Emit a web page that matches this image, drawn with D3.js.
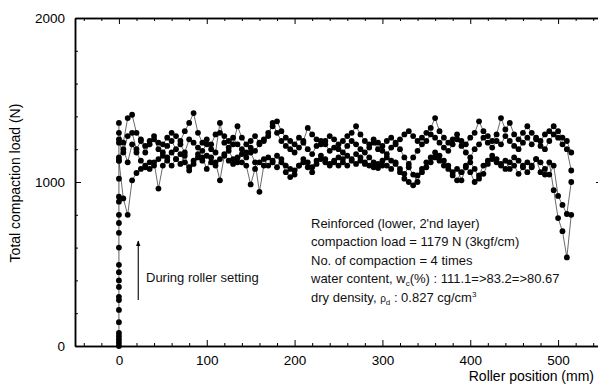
<!DOCTYPE html>
<html lang="en">
<head>
<meta charset="UTF-8">
<title>Total compaction load vs roller position</title>
<script src="https://d3js.org/d3.v7.min.js"></script>
<style>
    body { margin: 0; background: #fff; }
    svg { display: block; font-family: "Liberation Sans", Arial, sans-serif; }
    .axis path, .axis line { stroke: #000; }
    .axis path { stroke-width: 1.5; }
    .axis text { font-size: 13.5px; fill: #000; font-family: "Liberation Sans", Arial, sans-serif; }
    .note { font-size: 13px; fill: #111; }
</style>
</head>
<body>
<div id="chart"></div>
<script>
// roller position of each reading (mm)
const positions = [
    0, 5, 10, 15, 20, 25, 30, 35, 40, 45,
    50, 55, 60, 65, 70, 75, 80, 85, 90, 95,
    100, 105, 110, 115, 120, 125, 130, 135, 140, 145,
    150, 155, 160, 165, 170, 175, 180, 185, 190, 195,
    200, 205, 210, 215, 220, 225, 230, 235, 240, 245,
    250, 255, 260, 265, 270, 275, 280, 285, 290, 295,
    300, 305, 310, 315, 320, 325, 330, 335, 340, 345,
    350, 355, 360, 365, 370, 375, 380, 385, 390, 395,
    400, 405, 410, 415, 420, 425, 430, 435, 440, 445,
    450, 455, 460, 465, 470, 475, 480, 485, 490, 495,
    500, 505, 510, 515
];

// total compaction load (N), one array per pass
const pass1 = [
    1300, 1240, 1390, 1410, 1300, 1260, 1220, 1250, 1280, 1240,
    1230, 1270, 1300, 1280, 1250, 1310, 1360, 1420, 1300, 1240,
    1260, 1230, 1290, 1300, 1280, 1250, 1230, 1340, 1270, 1230,
    1250, 1280, 1240, 1260, 1300, 1340, 1370, 1310, 1270, 1250,
    1230, 1270, 1250, 1330, 1290, 1260, 1230, 1250, 1280, 1260,
    1230, 1250, 1280, 1300, 1340, 1290, 1250, 1230, 1260, 1240,
    1220, 1250, 1270, 1240, 1260, 1290, 1310, 1280, 1250, 1270,
    1300, 1330, 1390, 1310, 1270, 1240, 1260, 1290, 1250, 1230,
    1270, 1300, 1370, 1310, 1280, 1250, 1290, 1390, 1320, 1360,
    1290, 1260, 1300, 1340, 1300, 1270, 1250, 1290, 1310, 1340,
    1310, 1270, 1250, 1180
];
const pass2 = [
    1150, 1200, 1120, 1230, 1180, 1130, 1100, 1080, 1120, 960,
    1100, 1150, 1180, 1140, 1110, 1160, 1090, 1130, 1170, 1150,
    1080, 1150, 1120, 1010, 1160, 1190, 1140, 1120, 1170, 1150,
    1180, 1120, 940, 1100, 1150, 1120, 1090, 1140, 1100, 1080,
    1070, 1100, 1120, 1090, 1060, 1110, 1140, 1120, 1100, 1130,
    1100, 1140, 1160, 1130, 1110, 1150, 1120, 1100, 1090, 1110,
    1130, 1100, 1080, 1120, 1060, 1020, 1000, 980, 1040, 1060,
    1090, 1120, 1150, 1130, 1100, 1080, 1040, 1010, 1060, 1100,
    1120, 1080, 1020, 1050, 1110, 1140, 1120, 1100, 1130, 1080,
    1100, 1050, 1090, 1120, 1100, 1140, 1060, 1045, 1120, 950,
    780, 700, 540, 800
];
const pass3 = [
    1240, 1180, 1280, 1300, 1200, 1250, 1180, 1230, 1260, 1200,
    1180, 1220, 1250, 1200, 1230, 1180, 1260, 1240, 1210, 1190,
    1230, 1200, 1180, 1360, 1240, 1210, 1270, 1230, 1200, 1180,
    1210, 1190, 1230, 1250, 1280, 1360, 1300, 1250, 1220, 1200,
    1180, 1210, 1240, 1200, 1170, 1220, 1250, 1230, 1190, 1210,
    1200, 1180, 1220, 1250, 1230, 1200, 1180, 1210, 1240, 1200,
    1190, 1170, 1210, 1230, 1200, 1150, 1110, 1150, 1190, 1230,
    1250, 1290, 1270, 1240, 1210, 1190, 1230, 1260, 1220, 1180,
    1150, 1200, 1230, 1270, 1240, 1210, 1250, 1230, 1280, 1250,
    1220, 1200, 1240, 1270, 1230, 1260, 1220, 1200, 1250, 1290,
    1270, 1230, 1200, 1070
];
const pass4 = [
    1130, 900, 800, 1010, 1055, 1080, 1090, 1120, 1100, 1140,
    1160, 1130, 1100, 1140, 1170, 1120, 1070, 1110, 1150, 1130,
    1160, 1120, 1100, 1140, 1170, 1130, 1110, 1150, 1120, 1100,
    985, 1080, 1120, 1140, 1100, 1130, 1160, 1120, 1060, 1030,
    1045, 1100, 1140, 1120, 1090, 1130, 1160, 1140, 1110, 1120,
    1150, 1120, 1100, 1140, 1170, 1130, 1110, 1150, 1120, 1085,
    1100, 1150, 1130, 1110, 1080, 1050, 1090, 1045, 1000, 1080,
    1120, 1150, 1180, 1160, 1130, 1100, 1060, 1080, 1010, 1090,
    1060, 1000, 1040, 1100, 1130, 1160, 1140, 1110, 1080, 1120,
    1150, 1130, 1100, 1060, 1090, 1140, 1120, 1080, 1045, 1100,
    915, 860, 805, 1000
];

// readings while the roller was being set (all at position 0)
const settingLoads = [0, 20, 40, 60, 80, 145, 220, 280, 300, 360, 400, 450, 495,
    600, 690, 750, 800, 880, 910, 1020, 1130, 1260, 1360];

const xMajor = [0, 100, 200, 300, 400, 500];
const xMinor = [-40, -20, 20, 40, 60, 80, 120, 140, 160, 180, 220, 240, 260, 280,
    320, 340, 360, 380, 420, 440, 460, 480, 520, 540];
const yMajor = [0, 1000, 2000];
const yMinor = [200, 400, 600, 800, 1200, 1400, 1600, 1800];

const width = 598, height = 385;
const plotLeft = 75, plotTop = 18, plotRight = 602, plotBottom = 346;

const svg = d3.select("#chart").append("svg")
    .attr("width", width)
    .attr("height", height);

const x = d3.scaleLinear().domain([-50, 550]).range([plotLeft, plotRight]);
const y = d3.scaleLinear().domain([0, 2000]).range([plotBottom, plotTop]);

// axes: major ticks with labels on bottom/left, mirrored ticks on top/right
function addAxis(axis, tx, ty) {
    svg.append("g")
        .attr("class", "axis")
        .attr("transform", `translate(${tx},${ty})`)
        .call(axis);
}
const fmt = d3.format("d");
addAxis(d3.axisBottom(x).tickValues(xMajor).tickSize(-6).tickSizeOuter(0).tickPadding(9).tickFormat(fmt), 0, plotBottom);
addAxis(d3.axisBottom(x).tickValues(xMinor).tickSize(-3).tickSizeOuter(0).tickFormat(""), 0, plotBottom);
addAxis(d3.axisTop(x).tickValues(xMajor).tickSize(-6).tickSizeOuter(0).tickFormat(""), 0, plotTop);
addAxis(d3.axisTop(x).tickValues(xMinor).tickSize(-3).tickSizeOuter(0).tickFormat(""), 0, plotTop);
addAxis(d3.axisLeft(y).tickValues(yMajor).tickSize(-6).tickSizeOuter(0).tickPadding(10).tickFormat(fmt), plotLeft, 0);
addAxis(d3.axisLeft(y).tickValues(yMinor).tickSize(-3).tickSizeOuter(0).tickFormat(""), plotLeft, 0);
addAxis(d3.axisRight(y).tickValues(yMajor).tickSize(-6).tickSizeOuter(0).tickFormat(""), plotRight, 0);
addAxis(d3.axisRight(y).tickValues(yMinor).tickSize(-3).tickSizeOuter(0).tickFormat(""), plotRight, 0);

// axis titles
svg.append("text")
    .attr("x", 594)
    .attr("y", 381)
    .attr("text-anchor", "end")
    .style("font-size", "14px")
    .text("Roller position (mm)");

svg.append("text")
    .attr("transform", "translate(15,183) rotate(-90)")
    .attr("text-anchor", "middle")
    .attr("dy", "0.35em")
    .style("font-size", "14px")
    .text("Total compaction load (N)");

// data
const passes = [pass1, pass2, pass3, pass4];
const line = d3.line().x(d => x(d[0])).y(d => y(d[1]));

const plot = svg.append("g");

const setting = settingLoads.map(v => [0, v]);
plot.append("path")
    .datum(setting)
    .attr("d", line)
    .attr("fill", "none")
    .attr("stroke", "#333")
    .attr("stroke-width", 0.8);

passes.forEach(values => {
    const pts = positions.map((p, i) => [p, values[i]]);
    plot.append("path")
        .datum(pts)
        .attr("d", line)
        .attr("fill", "none")
        .attr("stroke", "#444")
        .attr("stroke-width", 0.8);
});

const allPts = setting.concat(...passes.map(values => positions.map((p, i) => [p, values[i]])));
plot.selectAll("circle")
    .data(allPts)
    .enter()
    .append("circle")
    .attr("cx", d => x(d[0]))
    .attr("cy", d => y(d[1]))
    .attr("r", 2.9)
    .attr("fill", "#000");

// "During roller setting" arrow
svg.append("defs").append("marker")
    .attr("id", "head")
    .attr("viewBox", "0 0 10 10")
    .attr("refX", 9)
    .attr("refY", 5)
    .attr("markerWidth", 5)
    .attr("markerHeight", 7)
    .attr("orient", "auto")
    .append("path")
    .attr("d", "M0,1 L10,5 L0,9 Z")
    .attr("fill", "#000");

svg.append("line")
    .attr("x1", x(22)).attr("y1", y(280))
    .attr("x2", x(22)).attr("y2", y(640))
    .attr("stroke", "#000")
    .attr("stroke-width", 1.1)
    .attr("marker-end", "url(#head)");

svg.append("text")
    .attr("class", "note")
    .attr("x", 146)
    .attr("y", 281.5)
    .text("During roller setting");

// test conditions
const notes = svg.append("g").attr("class", "note");
const lineY = [227.5, 246, 264.5, 283, 301.5];

notes.append("text").attr("x", 311).attr("y", lineY[0])
    .text("Reinforced (lower, 2'nd layer)");
notes.append("text").attr("x", 311).attr("y", lineY[1])
    .text("compaction load = 1179 N (3kgf/cm)");
notes.append("text").attr("x", 311).attr("y", lineY[2])
    .text("No. of compaction = 4 times");

const wc = notes.append("text").attr("x", 311).attr("y", lineY[3]);
wc.append("tspan").text("water content, w");
wc.append("tspan").attr("dy", 3).style("font-size", "8px").text("c");
wc.append("tspan").attr("dy", -3).text("(%) :  111.1=>83.2=>80.67");

const rd = notes.append("text").attr("x", 311).attr("y", lineY[4]);
rd.append("tspan").text("dry density, ");
rd.append("tspan").style("font-size", "10px").text("\u03c1");
rd.append("tspan").attr("dy", 3).style("font-size", "8px").text("d");
rd.append("tspan").attr("dy", -3).text(" : 0.827 cg/cm");
rd.append("tspan").attr("dy", -5).style("font-size", "8px").text("3");
</script>
</body>
</html>
